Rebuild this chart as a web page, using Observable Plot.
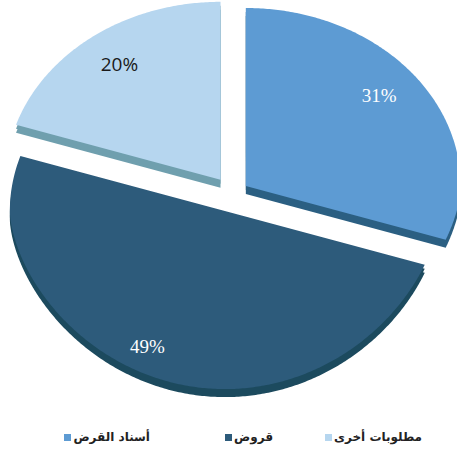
<!DOCTYPE html>
<html><head><meta charset="utf-8">
<script src="https://cdn.jsdelivr.net/npm/d3@7"></script>
<script src="https://cdn.jsdelivr.net/npm/@observablehq/plot@0.6"></script>
<style>
body{margin:0;background:#fff;}
#chart svg{display:block;}
#legend{position:relative;height:32px;font-family:"DejaVu Sans",sans-serif;font-weight:bold;font-size:12px;color:#222;}
.item{position:absolute;top:10px;display:flex;align-items:center;direction:rtl;gap:2px;white-space:nowrap;}
.sw{width:7px;height:7px;display:inline-block;}
</style></head><body>
<div id="chart"></div>
<div id="legend"></div>
<script>
// Data
const categories = ["أسناد القرض", "قروض", "مطلوبات أخرى"];
const shares = [31, 49, 20];
const labels = ["31%", "49%", "20%"];
// Styles
const colors = ["#5d9bd3", "#2d5b7b", "#b6d6ef"];
const sideColors = ["#2b5f82", "#1c4a5e", "#6f9fae"];
const labelColors = ["#ffffff", "#ffffff", "#1a1a1a"];
const labelFonts = ["Liberation Serif", "Liberation Serif", "Open Sans"];
const labelNudge = [-5, 5, 0]; // degrees
const labelR = [0.8, 0.86, 0.8];
const explode = [0.075, 0.105, 0.095];
const depth = 0.045;
// tilt projection: the front half is foreshortened a bit more
const proj = c => c >= 0 ? c : -Math.pow(-c, 1.2);

const arcs = d3.pie().sort(null).value(d => d)(shares);
const slices = arcs.map((a, i) => {
  const mid = (a.startAngle + a.endAngle) / 2;
  const ox = explode[i] * Math.sin(mid), oy = explode[i] * Math.cos(mid);
  const pts = [{x: ox, y: oy}];
  const n = Math.ceil((a.endAngle - a.startAngle) / 0.01);
  for (let k = 0; k <= n; k++) {
    const t = a.startAngle + (a.endAngle - a.startAngle) * k / n;
    pts.push({x: ox + Math.sin(t), y: oy + proj(Math.cos(t))});
  }
  return {i, mid, ox, oy, pts};
});

const marks = [];
// side faces (depth)
for (const s of slices) {
  for (const f of [0.5, 1]) {
    marks.push(Plot.line(s.pts.map(p => ({x: p.x, y: p.y - depth * f})),
      {x: "x", y: "y", fill: sideColors[s.i], stroke: "none", curve: "linear-closed"}));
  }
}
// top faces
for (const s of slices) {
  marks.push(Plot.line(s.pts, {x: "x", y: "y", fill: colors[s.i], stroke: "none", curve: "linear-closed"}));
}
// labels
for (const s of slices) {
  const r = labelR[s.i];
  const a = s.mid + labelNudge[s.i] * Math.PI / 180;
  marks.push(Plot.text([labels[s.i]], {
    x: () => s.ox + r * Math.sin(a),
    y: () => s.oy + r * proj(Math.cos(a)),
    text: d => d,
    fill: labelColors[s.i],
    fontSize: 19,
    fontFamily: labelFonts[s.i]
  }));
}

const chart = Plot.plot({
  width: 457,
  height: 420,
  margin: 0,
  x: {domain: [-1, 1], range: [17, 447], axis: null},
  y: {domain: [-1, 1], range: [371, 15], axis: null},
  style: {background: "#fff", overflow: "visible"},
  marks
});
document.getElementById("chart").appendChild(chart);

// legend (right-to-left)
const legend = document.getElementById("legend");
const rights = [457 - 150, 457 - 273, 457 - 422];
categories.forEach((c, i) => {
  const item = document.createElement("div");
  item.className = "item";
  item.style.right = rights[i] + "px";
  item.innerHTML = `<span>${c}</span><span class="sw" style="background:${colors[i]}"></span>`;
  legend.appendChild(item);
});
</script>
</body></html>
